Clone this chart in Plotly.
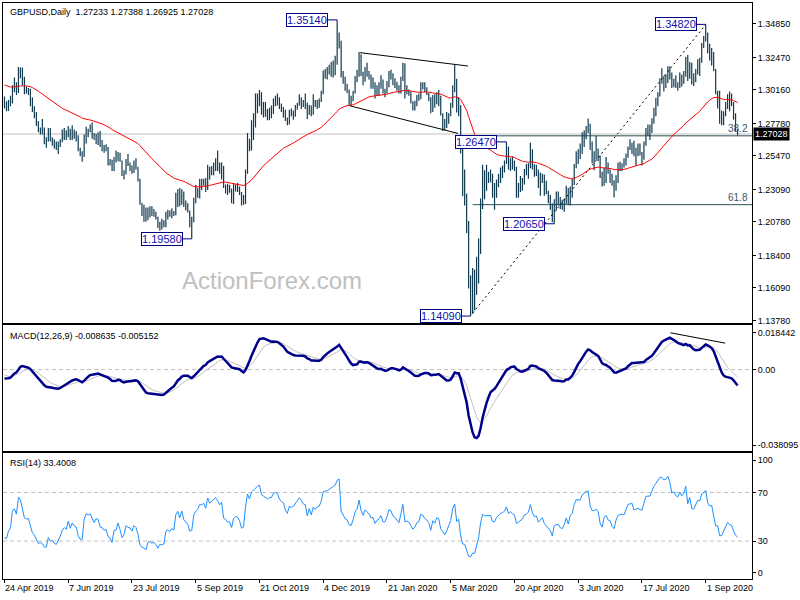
import plotly.graph_objects as go

# ---------------- data ----------------
date_labels = ["24 Apr 2019", "7 Jun 2019", "23 Jul 2019", "5 Sep 2019", "21 Oct 2019",
               "4 Dec 2019", "21 Jan 2020", "5 Mar 2020", "20 Apr 2020", "3 Jun 2020",
               "17 Jul 2020", "1 Sep 2020"]
date_label_bars = [0, 32, 64, 96, 128, 160, 192, 224, 256, 288, 320, 352]

price_ticks = [1.34850, 1.32470, 1.30160, 1.27780, 1.25470, 1.23090,
               1.20780, 1.18400, 1.16090, 1.13780]

# daily highs / lows / closes in pips (x 1e-4)
high_pips = [
    12970, 12935, 12945,
    12975, 13050, 13105, 13070, 13180,
    13175, 13175, 13110, 13040, 13030,
    13025, 12965, 12900, 12860, 12795,
    12750, 12810, 12750, 12680, 12745,
    12745, 12680, 12665, 12650, 12650,
    12665, 12735, 12745, 12730, 12760,
    12740, 12765, 12735, 12725, 12695,
    12605, 12580, 12700, 12755, 12740,
    12770, 12785, 12710, 12705, 12715,
    12725, 12660, 12625, 12630, 12610,
    12525, 12520, 12540, 12585, 12575,
    12570, 12515, 12445, 12525, 12560,
    12500, 12480, 12515, 12530, 12470,
    12385, 12215, 12200, 12180, 12180,
    12190, 12190, 12170, 12150, 12115,
    12080, 12100, 12090, 12150, 12165,
    12160, 12175, 12155, 12285, 12310,
    12320, 12310, 12295, 12230, 12210,
    12160, 12115, 12250, 12340, 12320,
    12385, 12385, 12385, 12390, 12485,
    12470, 12475, 12500, 12530, 12585,
    12500, 12500, 12475, 12345, 12350,
    12340, 12315, 12355, 12345, 12355,
    12330, 12290, 12270, 12450, 12710,
    12670, 12800, 12850, 12990, 12990,
    13015, 13000, 12930, 12930, 12880,
    12890, 12905, 12955, 12975, 12990,
    12965, 12920, 12895, 12875, 12820,
    12875, 12885, 12870, 12910, 12925,
    12985, 12965, 12945, 12990, 12925,
    12910, 12905, 12985, 12945, 12945,
    12955, 13010, 13155, 13165, 13180,
    13195, 13215, 13225, 13260, 13514,
    13425, 13365, 13150, 13110, 13060,
    13020, 12975, 13010, 13115, 13160,
    13285, 13270, 13145,
    13180, 13210, 13150, 13125, 13105,
    13070, 13050, 13070, 13120, 13090,
    13025, 13080, 13150, 13160, 13135,
    13100, 13075, 13050, 13110, 13210,
    13205, 13050, 13020, 13005, 12935,
    12940, 12980, 12990, 13070, 13070,
    13070, 13035, 12995, 12965, 12980,
    12985, 13000, 13015, 12975, 12850,
    12810, 12860, 12850, 12925, 13050,
    13200, 13095, 12960, 12910, 12645,
    12450, 12280, 12085, 11700, 11750,
    11740, 11830, 11960, 12245, 12485,
    12445, 12485, 12435, 12450, 12420,
    12355, 12380, 12420, 12465, 12480,
    12515, 12647, 12615, 12530, 12545,
    12515, 12470, 12355, 12405, 12390,
    12455, 12490, 12495, 12640, 12595,
    12490, 12485, 12450, 12430, 12420,
    12415, 12370, 12300, 12270, 12210,
    12240, 12295, 12295, 12255, 12235,
    12245, 12335, 12320, 12330, 12385,
    12490, 12580, 12595, 12635, 12715,
    12730, 12760, 12813, 12775, 12650,
    12580, 12690, 12600, 12550, 12435,
    12465, 12540, 12500, 12450, 12420,
    12375, 12410, 12500, 12505, 12495,
    12530, 12565, 12615, 12665, 12640,
    12655, 12605, 12635, 12635, 12575,
    12650, 12745, 12770, 12770, 12815,
    12890, 12960, 13000, 13100, 13170,
    13115, 13125, 13185, 13185, 13140,
    13095, 13120, 13070, 13140, 13125,
    13150, 13250, 13265, 13215, 13210,
    13135, 13165, 13235, 13245, 13350,
    13400, 13482, 13425, 13345, 13315,
    13285, 13165, 13010, 13010, 12870,
    12865, 12930, 12985, 13005, 12990,
    12930, 12850, 12738.8,
]

low_pips = [
    12885, 12865, 12866,
    12900, 12920, 13000, 12980, 12995,
    13100, 13050, 12985, 12990, 12980,
    12900, 12860, 12815, 12760, 12715,
    12700, 12700, 12630, 12605, 12650,
    12650, 12620, 12600, 12590, 12560,
    12610, 12645, 12660, 12660, 12680,
    12660, 12660, 12670, 12650, 12580,
    12545, 12505, 12540, 12635, 12680,
    12715, 12670, 12660, 12630, 12625,
    12610, 12580, 12570, 12580, 12480,
    12480, 12440, 12440, 12500, 12510,
    12505, 12405, 12380, 12415, 12475,
    12440, 12420, 12425, 12450, 12365,
    12200, 12120, 12080, 12080, 12090,
    12110, 12120, 12115, 12095, 12035,
    12015, 12025, 12040, 12040, 12095,
    12115, 12105, 12120, 12125, 12185,
    12190, 12200, 12185, 12160, 12145,
    12040, 11958, 12075, 12210, 12250,
    12245, 12305, 12335, 12290, 12305,
    12380, 12410, 12410, 12440, 12440,
    12420, 12380, 12320, 12280, 12270,
    12285, 12210, 12205, 12295, 12290,
    12270, 12195, 12200, 12205, 12420,
    12580, 12585, 12660, 12750, 12850,
    12900, 12840, 12820, 12825, 12800,
    12800, 12815, 12845, 12900, 12905,
    12880, 12860, 12820, 12795, 12765,
    12770, 12830, 12805, 12825, 12875,
    12905, 12880, 12895, 12880, 12810,
    12840, 12830, 12840, 12895, 12880,
    12890, 12930, 12985, 13095, 13090,
    13125, 13110, 13105, 13120, 13195,
    13310, 13105, 13060, 13010, 12995,
    12905, 12905, 12935, 12990, 13070,
    13110, 13115, 13050,
    13075, 13110, 13090, 13025, 13025,
    12955, 12975, 12975, 13025, 12990,
    12965, 12990, 13035, 13090, 13050,
    13030, 13010, 12990, 12990, 13080,
    12955, 12985, 12975, 12920, 12870,
    12870, 12900, 12940, 12950, 13020,
    13000, 12980, 12935, 12850, 12860,
    12890, 12915, 12900, 12835, 12725,
    12730, 12745, 12775, 12830, 12890,
    13000, 12855, 12830, 12565, 12260,
    12195, 12000, 11605, 11409, 11425,
    11450, 11560, 11640, 11850, 12170,
    12240, 12300, 12355, 12360, 12250,
    12165, 12250, 12325, 12355, 12390,
    12430, 12490, 12450, 12440, 12450,
    12440, 12250, 12250, 12290, 12300,
    12345, 12410, 12385, 12460, 12450,
    12400, 12405, 12320, 12265, 12355,
    12265, 12275, 12210, 12165, 12075,
    12065, 12160, 12195, 12170, 12165,
    12150, 12205, 12200, 12195, 12250,
    12340, 12460, 12490, 12525, 12560,
    12610, 12665, 12710, 12590, 12495,
    12445, 12520, 12510, 12390, 12330,
    12335, 12355, 12420, 12355, 12335,
    12252, 12300, 12355, 12440, 12440,
    12465, 12480, 12535, 12590, 12560,
    12545, 12480, 12545, 12550, 12480,
    12520, 12620, 12690, 12660, 12710,
    12775, 12830, 12900, 12970, 13060,
    13005, 13030, 13065, 13090, 13030,
    13035, 13030, 13010, 13030, 13040,
    13060, 13110, 13080, 13095, 13055,
    13045, 13070, 13125, 13115, 13210,
    13315, 13360, 13275, 13225, 13190,
    13150, 12985, 12885, 12775, 12765,
    12765, 12830, 12880, 12865, 12900,
    12805, 12720, 12692.5,
]

close_pips = [
    12895, 12890, 12920,
    12935, 13035, 13045, 13015, 13165,
    13150, 13085, 13015, 13005, 13010,
    12945, 12870, 12840, 12785, 12720,
    12725, 12710, 12655, 12655, 12710,
    12660, 12665, 12625, 12610, 12630,
    12655, 12690, 12705, 12690, 12740,
    12680, 12715, 12690, 12680, 12595,
    12550, 12550, 12690, 12740, 12730,
    12740, 12700, 12665, 12695, 12690,
    12620, 12615, 12590, 12595, 12520,
    12505, 12450, 12525, 12525, 12575,
    12510, 12410, 12430, 12500, 12480,
    12475, 12440, 12480, 12460, 12385,
    12220, 12160, 12150, 12105, 12160,
    12165, 12135, 12140, 12110, 12040,
    12065, 12055, 12060, 12140, 12150,
    12130, 12150, 12135, 12250, 12280,
    12225, 12290, 12210, 12180, 12160,
    12080, 12085, 12225, 12270, 12290,
    12355, 12350, 12370, 12330, 12465,
    12420, 12445, 12475, 12500, 12475,
    12445, 12475, 12330, 12320, 12290,
    12290, 12230, 12310, 12330, 12325,
    12290, 12210, 12220, 12435, 12665,
    12610, 12775, 12825, 12890, 12940,
    12975, 12875, 12860, 12840, 12830,
    12855, 12855, 12935, 12945, 12940,
    12895, 12875, 12865, 12805, 12775,
    12855, 12845, 12855, 12885, 12910,
    12955, 12940, 12915, 12910, 12830,
    12895, 12845, 12925, 12905, 12935,
    12940, 12995, 13130, 13140, 13145,
    13170, 13190, 13210, 13240, 13330,
    13360, 13110, 13075, 13025, 13010,
    12950, 12940, 12995, 13085, 13120,
    13255, 13140, 13080,
    13160, 13135, 13110, 13060, 13065,
    12990, 13025, 13040, 13075, 13005,
    13005, 13055, 13135, 13125, 13075,
    13060, 13035, 13005, 13090, 13205,
    13000, 13010, 12995, 12935, 12895,
    12915, 12960, 12970, 13050, 13040,
    13005, 12990, 12960, 12870, 12960,
    12930, 12985, 12975, 12850, 12815,
    12760, 12795, 12835, 12895, 13040,
    13110, 12880, 12910, 12570, 12290,
    12275, 12055, 11625, 11580, 11640,
    11620, 11760, 11880, 12205, 12455,
    12410, 12405, 12410, 12415, 12270,
    12265, 12355, 12405, 12445, 12460,
    12490, 12580, 12465, 12510, 12470,
    12455, 12300, 12320, 12345, 12365,
    12430, 12440, 12470, 12595, 12485,
    12430, 12440, 12345, 12375, 12405,
    12320, 12285, 12235, 12205, 12105,
    12225, 12235, 12240, 12190, 12175,
    12215, 12290, 12210, 12315, 12345,
    12480, 12570, 12575, 12570, 12665,
    12705, 12740, 12750, 12605, 12550,
    12550, 12570, 12545, 12405, 12345,
    12460, 12490, 12430, 12420, 12340,
    12305, 12400, 12465, 12470, 12480,
    12470, 12545, 12605, 12610, 12620,
    12560, 12570, 12580, 12570, 12565,
    12635, 12720, 12725, 12725, 12790,
    12875, 12930, 12990, 13085, 13085,
    13070, 13085, 13160, 13125, 13055,
    13075, 13050, 13040, 13110, 13085,
    13120, 13240, 13100, 13205, 13085,
    13080, 13140, 13220, 13215, 13345,
    13375, 13420, 13300, 13260, 13275,
    13160, 12990, 12995, 12795, 12795,
    12850, 12915, 12960, 12925, 12915,
    12820, 12735, 12702.8,
]

# swing-point labels
swing_bars = [167, 352, 94, 234, 252, 276]
swing_prices = [1.35140, 1.34820, 1.19580, 1.14090, 1.26470, 1.20650]

# drawn objects (bar index, price)
channel_upper_bars = [178.5, 232.7]
channel_upper_prices = [1.3281, 1.3186]
channel_lower_bars = [173.5, 227.7]
channel_lower_prices = [1.2903, 1.2707]
rise_line_bars = [235, 352]
rise_line_prices = [1.1430, 1.3480]
fib_start_bar = 235
fib_low, fib_high = 1.14090, 1.34820
fib_levels = [38.2, 61.8]
macd_trend_bars = [334.3, 361.8]
macd_trend_values = [0.0185, 0.0133]

last_ohlc = [1.27233, 1.27388, 1.26925, 1.27028]
macd_title_values = [-0.008635, -0.005152]
rsi_title_value = 33.4008

# indicator seed values (state before the first visible bar)
ema55_seed = 1.3057
ema12_seed, ema26_seed, signal_seed = 1.2955, 1.2998, -0.0025
rsi_prev_close, rsi_avg_gain_seed, rsi_avg_loss_seed = 1.2915, 0.0009, 0.0017

# ---------------- derived series ----------------
N = len(close_pips)
assert len(high_pips) == N and len(low_pips) == N
high = [v / 1e4 for v in high_pips]
low = [v / 1e4 for v in low_pips]
close = [v / 1e4 for v in close_pips]
bars = list(range(N))


def ema(vals, n, seed):
    k = 2.0 / (n + 1)
    e = seed
    out = []
    for v in vals:
        e = e + k * (v - e)
        out.append(e)
    return out


ma55 = ema(close, 55, ema55_seed)
e12 = ema(close, 12, ema12_seed)
e26 = ema(close, 26, ema26_seed)
macd = [a - b for a, b in zip(e12, e26)]
signal = ema(macd, 9, signal_seed)

rsi = []
ag, al, prev = rsi_avg_gain_seed, rsi_avg_loss_seed, rsi_prev_close
for c in close:
    ch = c - prev
    prev = c
    ag = (ag * 13 + max(ch, 0)) / 14
    al = (al * 13 + max(-ch, 0)) / 14
    rsi.append(100 - 100 / (1 + ag / al) if al > 0 else 100.0)

# ---------------- layout constants ----------------
W, H = 800, 600
PL, PR, PT, PB = 2, 754, 2, 579
X_MIN, X_MAX = -0.75, 375.25


def px(x):
    return (x - PL) / (PR - PL)


def py(y):
    return (PB - y) / (PB - PT)


FONT = "Liberation Sans"
BAR_COLOR = "#0f3a50"

fig = go.Figure()

# OHLC bars as high-low segments
bx, by = [], []
for i in bars:
    bx += [i, i, None]
    by += [low[i], high[i], None]

# current price line (full width)
fig.add_trace(go.Scatter(x=[X_MIN, X_MAX], y=[last_ohlc[3]] * 2, mode="lines",
                         line=dict(color="#c0c0c0", width=1), xaxis="x", yaxis="y",
                         hoverinfo="skip"))
# fib lines
for lv in fib_levels:
    p = fib_high - lv / 100 * (fib_high - fib_low)
    fig.add_trace(go.Scatter(x=[fib_start_bar, X_MAX], y=[p, p], mode="lines",
                             line=dict(color="#2f4f56", width=1), xaxis="x", yaxis="y",
                             hoverinfo="skip"))

fig.add_trace(go.Scatter(x=bx, y=by, mode="lines", line=dict(color=BAR_COLOR, width=1.2),
                         xaxis="x", yaxis="y", hoverinfo="skip"))
fig.add_trace(go.Scatter(x=bars, y=ma55, mode="lines", line=dict(color="#ff0000", width=1),
                         xaxis="x", yaxis="y"))
# channel + rise line
for xs, ys in [(channel_upper_bars, channel_upper_prices),
               (channel_lower_bars, channel_lower_prices)]:
    fig.add_trace(go.Scatter(x=xs, y=ys, mode="lines", line=dict(color="black", width=1),
                             xaxis="x", yaxis="y"))
fig.add_trace(go.Scatter(x=rise_line_bars, y=rise_line_prices, mode="lines",
                         line=dict(color="black", width=1, dash="2px,3px"),
                         xaxis="x", yaxis="y"))

# MACD panel
fig.add_trace(go.Scatter(x=[X_MIN, X_MAX], y=[0, 0], mode="lines",
                         line=dict(color="#c0c0c0", width=1, dash="4px,3px"),
                         xaxis="x2", yaxis="y2"))
fig.add_trace(go.Scatter(x=bars, y=signal, mode="lines", line=dict(color="#c0c0c0", width=1),
                         xaxis="x2", yaxis="y2"))
fig.add_trace(go.Scatter(x=bars, y=macd, mode="lines", line=dict(color="#00008b", width=2.5),
                         xaxis="x2", yaxis="y2"))
fig.add_trace(go.Scatter(x=macd_trend_bars, y=macd_trend_values, mode="lines",
                         line=dict(color="black", width=1), xaxis="x2", yaxis="y2"))

# RSI panel
for lv in (70, 30):
    fig.add_trace(go.Scatter(x=[X_MIN, X_MAX], y=[lv, lv], mode="lines",
                             line=dict(color="#c0c0c0", width=1, dash="4px,3px"),
                             xaxis="x3", yaxis="y3"))
fig.add_trace(go.Scatter(x=bars, y=rsi, mode="lines", line=dict(color="#1e90ff", width=1),
                         xaxis="x3", yaxis="y3"))

# ---------------- axes ----------------
frame = dict(showline=True, linecolor="black", linewidth=1, mirror=True,
             showgrid=False, zeroline=False)
tickfont = dict(family=FONT, size=9, color="black")

main_dom = [py(323), 1.0]
macd_dom = [py(451), py(325)]
rsi_dom = [0.0, py(453)]

# MACD scaling: 0.018442 at y=332.5, -0.038095 at y=445
m_scale = (445 - 332.5) / (0.018442 + 0.038095)
macd_top = 0.018442 + (332.5 - 325) / m_scale
macd_bot = -0.038095 - (451 - 445) / m_scale
# RSI scaling: 70 at 492.3, 30 at 541
r_scale = (541 - 492.3) / 40
rsi_top = 70 + (492.3 - 453) / r_scale
rsi_bot = 30 - (579 - 541) / r_scale

fig.update_layout(
    width=W, height=H, autosize=False,
    margin=dict(l=PL, r=W - PR, t=PT, b=H - PB),
    paper_bgcolor="white", plot_bgcolor="white",
    showlegend=False,
    font=dict(family=FONT, size=9, color="black"),
    xaxis=dict(domain=[0, 1], range=[X_MIN, X_MAX], anchor="y", showticklabels=False,
               ticks="", **frame),
    xaxis2=dict(domain=[0, 1], range=[X_MIN, X_MAX], anchor="y2", showticklabels=False,
                ticks="", matches="x", **frame),
    xaxis3=dict(domain=[0, 1], range=[X_MIN, X_MAX], anchor="y3", showticklabels=False,
                ticks="outside", ticklen=3, tickcolor="black", tickvals=date_label_bars,
                matches="x", **frame),
    yaxis=dict(domain=main_dom, range=[1.13567, 1.36340], side="right", anchor="x",
               tickvals=price_ticks, ticktext=[f"{v:.5f}" for v in price_ticks],
               ticks="outside", ticklen=3, tickcolor="black", tickfont=tickfont, **frame),
    yaxis2=dict(domain=macd_dom, range=[macd_bot, macd_top], side="right", anchor="x2",
                tickvals=[0.018442, 0.0, -0.038095],
                ticktext=["0.018442", "0.00", "-0.038095"],
                ticks="outside", ticklen=3, tickcolor="black", tickfont=tickfont, **frame),
    yaxis3=dict(domain=rsi_dom, range=[rsi_bot, rsi_top], side="right", anchor="x3",
                tickvals=[96.5, 70, 30, 3.9], ticktext=["100", "70", "30", "0"],
                ticks="outside", ticklen=3, tickcolor="black", tickfont=tickfont, **frame),
)

ann = []
ann.append(dict(xref="paper", yref="paper", x=px(7), y=py(11), xanchor="left",
                yanchor="middle", showarrow=False,
                text="GBPUSD,Daily  " + " ".join(f"{v:.5f}" for v in last_ohlc),
                font=dict(family=FONT, size=9, color="black")))
ann.append(dict(xref="paper", yref="paper", x=px(7), y=py(335.5), xanchor="left",
                yanchor="middle", showarrow=False,
                text="MACD(12,26,9) " + " ".join(f"{v:.6f}" for v in macd_title_values),
                font=dict(family=FONT, size=9, color="black")))
ann.append(dict(xref="paper", yref="paper", x=px(7), y=py(463), xanchor="left",
                yanchor="middle", showarrow=False,
                text=f"RSI(14) {rsi_title_value:.4f}",
                font=dict(family=FONT, size=9, color="black")))
ann.append(dict(xref="paper", yref="paper", x=px(272.5), y=py(279.5), xanchor="center",
                yanchor="middle", showarrow=False, text="ActionForex.com",
                font=dict(family=FONT, size=24, color="#c0c0c0")))
for b, lab in zip(date_label_bars, date_labels):
    ann.append(dict(xref="x3", yref="paper", x=b, y=py(588.5), xanchor="left",
                    yanchor="middle", xshift=-1, showarrow=False, text=lab,
                    font=dict(family=FONT, size=9, color="black")))
for b, p in zip(swing_bars, swing_prices):
    ann.append(dict(xref="x", yref="y", x=b, y=p, text=f"{p:.5f}", showarrow=True,
                    arrowhead=0, arrowwidth=1, arrowcolor="#000080", ax=-30, ay=0,
                    axref="pixel", ayref="pixel", bordercolor="#000080", borderwidth=1,
                    borderpad=0, bgcolor="white",
                    font=dict(family=FONT, size=11, color="#1010b0")))
ann.append(dict(xref="paper", yref="y", x=1, y=last_ohlc[3], xanchor="left",
                yanchor="middle", xshift=1, showarrow=False, text=f"{last_ohlc[3]:.5f}",
                bgcolor="black", borderpad=1,
                font=dict(family=FONT, size=9, color="white")))
for lv in fib_levels:
    p = fib_high - lv / 100 * (fib_high - fib_low)
    ann.append(dict(xref="paper", yref="y", x=1, y=p, xanchor="right", yanchor="bottom",
                    xshift=-2, yshift=0, showarrow=False, text=f"{lv:.1f}",
                    font=dict(family=FONT, size=10, color="#3d5966")))
fig.update_layout(annotations=ann)

fig.write_html(
    "out.html",
    config={"displayModeBar": False},
    post_script="document.body.style.margin='0px';document.body.style.padding='0px';",
)
